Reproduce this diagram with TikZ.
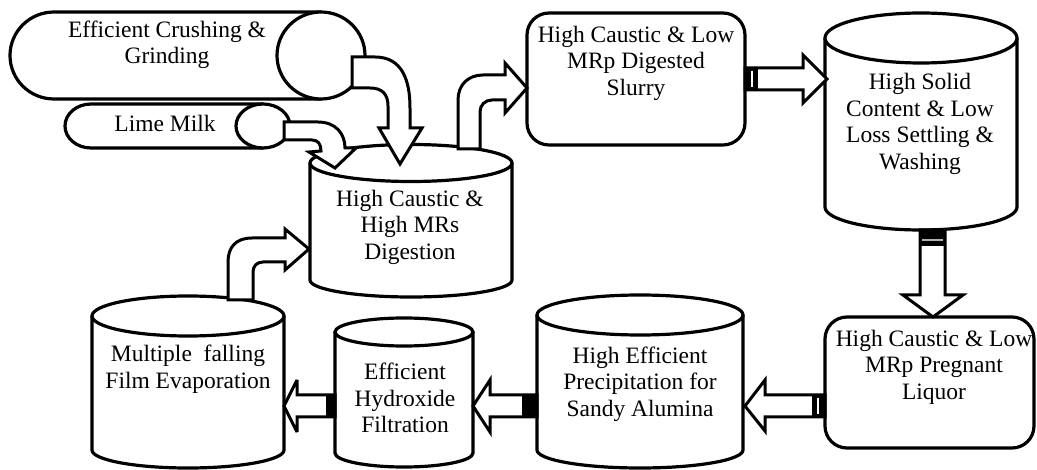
\documentclass[tikz,border=0pt]{standalone}
\usepackage{fontspec}
\setmainfont{Liberation Serif}
\begin{document}
\begin{tikzpicture}[x=1pt,y=-1pt,
  shp/.style={draw=black,line width=3.2pt,fill=white},
  barrow/.style={draw=black,line width=3pt,fill=white,miter limit=4},
  band/.style={fill=black},
  lbl/.style={align=center,font=\fontsize{23.5}{26.5}\selectfont,inner sep=0pt}]
\useasboundingbox (0,0) rectangle (1037,470);

% Efficient Crushing & Grinding (horizontal cylinder)
\draw[shp] (321,12) -- (54,12) arc[start angle=270,end angle=90,x radius=44,y radius=43.5] -- (321,99);
\draw[shp] (321,55.5) ellipse[x radius=44,y radius=43.5];
% Lime Milk (horizontal cylinder)
\draw[shp] (263,104) -- (91,104) arc[start angle=270,end angle=90,x radius=26,y radius=22] -- (263,148);
\draw[shp] (263,126) ellipse[x radius=27,y radius=22];

% Digestion
\draw[shp] (310,163) -- (310,280) arc[start angle=180,end angle=0,x radius=101,y radius=17] -- (512,163);
\draw[shp] (411,163) ellipse[x radius=101,y radius=18.5];
% Settling
\draw[shp] (825,38) -- (825,207) arc[start angle=180,end angle=0,x radius=96,y radius=23] -- (1017,38);
\draw[shp] (921,38) ellipse[x radius=96,y radius=25];
% Precipitation
\draw[shp] (537,315) -- (537,450) arc[start angle=180,end angle=0,x radius=103,y radius=18] -- (743,315);
\draw[shp] (640,315) ellipse[x radius=103,y radius=20];
% Filtration
\draw[shp] (335,332) -- (335,453) arc[start angle=180,end angle=0,x radius=69,y radius=14] -- (473,332);
\draw[shp] (404,332) ellipse[x radius=69,y radius=14];
% Evaporation
\draw[shp] (92,316) -- (92,450) arc[start angle=180,end angle=0,x radius=96,y radius=18] -- (284,316);
\draw[shp] (188,316) ellipse[x radius=96,y radius=20];

% Rounded boxes
\draw[shp,rounded corners=22pt] (527,13) rectangle (745,145);
\draw[shp,rounded corners=22pt] (825,317) rectangle (1034,448);

% Arrow: crushing -> digestion
\draw[barrow] (352,57) -- (375,57) .. controls (402,57) and (410,80) .. (410,108) -- (410,128) -- (422,128)
  -- (400,164) -- (379,128) -- (388,128) -- (388,106) .. controls (388,94) and (382,88) .. (370,88) -- (352,88) -- cycle;
% Arrow: lime -> digestion
\draw[barrow] (284,122) -- (318,122) .. controls (336,122) and (345,134) .. (345,148) -- (356,148)
  -- (335,168) -- (309,152) -- (321,151) .. controls (321,144) and (318,140) .. (312,140) -- (284,140) -- cycle;
% Arrow: digestion -> slurry
\draw[barrow] (458,149) -- (458,100) .. controls (458,85) and (468,75) .. (483,75) -- (505,75) -- (505,63)
  -- (527,88) -- (505,113) -- (505,100) -- (492,100) .. controls (485,100) and (480,105) .. (480,112) -- (480,149) -- cycle;
% Arrow: slurry -> settling
\draw[barrow] (745,68) -- (803,68) -- (803,55) -- (827,79) -- (803,103) -- (803,90) -- (745,90) -- cycle;
\fill[band] (745,67) rectangle (758,91);
\draw[white,line width=1.4pt] (752,71) -- (752,87);
% Arrow: settling -> pregnant
\draw[barrow] (920,230) -- (920,295) -- (903,295) -- (933,317) -- (963,295) -- (945,295) -- (945,230) -- cycle;
\fill[band] (919,229) rectangle (946,246);
\draw[gray!60,line width=1.4pt] (922,240) -- (943,240);
% Arrow: pregnant -> precipitation
\draw[barrow] (825,395) -- (765,395) -- (765,380) -- (745,406) -- (765,431) -- (765,417) -- (825,417) -- cycle;
\fill[band] (812,394) rectangle (825,418);
\draw[white,line width=1.4pt] (818,398) -- (818,414);
% Arrow: precipitation -> filtration
\draw[barrow] (537,395) -- (490,395) -- (490,380) -- (473,406) -- (490,432) -- (490,417) -- (537,417) -- cycle;
\fill[band] (522,394) rectangle (537,418);
% Arrow: filtration -> evaporation
\draw[barrow] (335,395) -- (297,395) -- (297,380) -- (284,406) -- (297,432) -- (297,417) -- (335,417) -- cycle;
\fill[band] (326,394) rectangle (335,418);
% Arrow: evaporation -> digestion
\draw[barrow] (228,300) -- (228,262) .. controls (228,247) and (236,238) .. (252,238) -- (285,238) -- (285,229)
  -- (309,249) -- (285,270) -- (285,262) -- (263,262) .. controls (257,262) and (253,266) .. (253,272) -- (253,300) -- cycle;

% Labels
\node[lbl] (crush) at (167,45) {Efficient Crushing \&\\Grinding};
\node[lbl] (lime) at (165,123) {Lime Milk};
\node[lbl] (dig) at (410,227) {High Caustic \&\\High MRs\\Digestion};
\node[lbl] (slurry) at (636,63) {High Caustic \& Low\\MRp Digested\\Slurry};
\node[lbl] (settle) at (920,124) {High Solid\\Content \& Low\\Loss Settling \&\\Washing};
\node[lbl] (preg) at (934,367) {High Caustic \& Low\\MRp Pregnant\\Liquor};
\node[lbl] (precip) at (640,384) {High Efficient\\Precipitation for\\Sandy Alumina};
\node[lbl] (filt) at (405,398) {Efficient\\Hydroxide\\Filtration};
\node[lbl] (evap) at (188,369) {Multiple\ \ falling\\Film Evaporation};
\end{tikzpicture}
\end{document}
